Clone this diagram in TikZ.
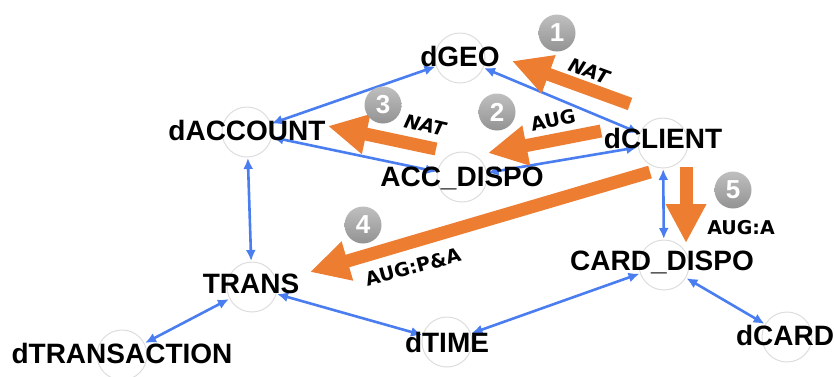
\documentclass[tikz,border=0pt]{standalone}
\usepackage{fontspec}
\setmainfont{Liberation Sans}
\newfontfamily\lblfont{DejaVu Sans}
\usetikzlibrary{arrows.meta}
\definecolor{orng}{HTML}{ED7D31}
\definecolor{blu}{HTML}{4A7EF0}
\definecolor{ring}{HTML}{DDDDDD}
\tikzset{
  ent/.style={circle,minimum size=50pt,inner sep=0pt,draw=ring,line width=1pt,fill=white},
  ename/.style={anchor=base,inner sep=0pt,font=\fontsize{28}{28}\selectfont\bfseries},
  bl/.style={draw=blu,line width=2.6pt,{Latex[length=11pt,width=10pt]}-{Latex[length=11pt,width=10pt]},shorten <=0.5pt,shorten >=0.5pt},
  ora/.style={draw=orng,line width=13pt,-{Triangle[length=39pt,width=38pt]}},
  elbl/.style={inner sep=0pt,font=\lblfont\fontsize{19}{19}\selectfont\bfseries},
  badge/.style={circle,minimum size=37pt,inner sep=0pt,top color=gray!50,bottom color=gray!85,text=white,font=\fontsize{26}{26}\selectfont\bfseries}
}
\begin{document}
\begin{tikzpicture}[x=1pt,y=-1pt]
\useasboundingbox (0,0) rectangle (834,376);
% entity circles
\node[ent] (geo) at (460,58) {};
\node[ent] (client) at (663,143) {};
\node[ent] (acc) at (462,177) {};
\node[ent] (account) at (247,132) {};
\node[ent] (trans) at (252,287) {};
\node[ent] (tx) at (122,355) {};
\node[ent] (time) at (447,342) {};
\node[ent] (card) at (664,265) {};
\node[ent] (dcard) at (787,337) {};
% blue relations
\draw[bl] (account) -- (geo);
\draw[bl] (account) -- (acc);
\draw[bl] (acc) -- (client);
\draw[bl] (geo) -- (client);
\draw[bl] (client) -- (card);
\draw[bl] (account) -- (trans);
\draw[bl] (tx) -- (trans);
\draw[bl] (trans) -- (time);
\draw[bl] (time) -- (card);
\draw[bl] (card) -- (dcard);
% orange arrows
\coordinate (o1s) at (630,104); \coordinate (o1e) at (512,61);
\coordinate (o2s) at (601,131); \coordinate (o2e) at (488,153);
\coordinate (o3s) at (436,149); \coordinate (o3e) at (328,126);
\coordinate (o4s) at (650,172); \coordinate (o4e) at (310,272);
\coordinate (o5s) at (686,167); \coordinate (o5e) at (686,243);
\draw[ora] (o1s) -- (o1e);
\draw[ora] (o2s) -- (o2e);
\draw[ora] (o3s) -- (o3e);
\draw[ora] (o4s) -- (o4e);
\draw[ora] (o5s) -- (o5e);
% labels on orange arrows
\node[elbl,rotate=-20] (l1) at (589,71) {\itshape NAT};
\node[elbl,rotate=12] (l2) at (553,120) {AUG};
\node[elbl,rotate=-13] (l3) at (425,125) {\itshape NAT};
\node[elbl,rotate=15] (l4) at (413,267) {AUG:P\&A};
\node[elbl] (l5) at (741,228) {AUG:A};
% badges
\node[badge] (b1) at (557,33) {1};
\node[badge] (b2) at (497,112) {2};
\node[badge] (b3) at (383,105) {3};
\node[badge] (b4) at (363,225) {4};
\node[badge] (b5) at (733,190) {5};
% entity names
\node[ename] (tgeo) at (460,66) {dGEO};
\node[ename] (tclient) at (663,148) {dCLIENT};
\node[ename] (tacc) at (462,186) {ACC\_DISPO};
\node[ename] (taccount) at (247,140) {dACCOUNT};
\node[ename] (ttrans) at (251,293) {TRANS};
\node[ename] (ttx) at (122,363) {dTRANSACTION};
\node[ename] (ttime) at (447,352) {dTIME};
\node[ename] (tcard) at (662,270) {CARD\_DISPO};
\node[ename] (tdcard) at (785,345) {dCARD};
\end{tikzpicture}
\end{document}
